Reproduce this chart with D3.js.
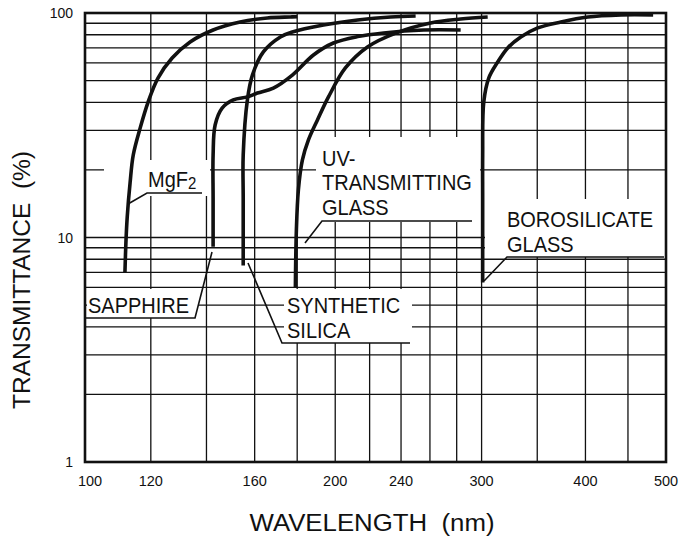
<!DOCTYPE html>
<html>
<head>
<meta charset="utf-8">
<script src="https://cdn.jsdelivr.net/npm/d3@7"></script>
<style>
  html, body { margin: 0; padding: 0; background: #fff; }
  svg { display: block; }
  text { font-family: "Liberation Sans", Arial, Helvetica, sans-serif; fill: #111; }
</style>
</head>
<body>
<svg id="chart" width="683" height="540"></svg>
<script>
// ---------------- data ----------------
const xTicks = [100, 120, 160, 200, 240, 300, 400, 500];
const yTicks = [1, 10, 100];
const xGrid = [120, 140, 160, 180, 200, 220, 240, 260, 280, 300, 350, 400, 450];
const yGrid = [2, 3, 4, 5, 6, 7, 8, 9, 10, 20, 30, 40, 50, 60, 70, 80, 90];

// [wavelength nm, transmittance %]
const mgf2 = [[111.7,7.0],[112.0,9.5],[112.4,12.3],[113.3,17.5],[114.3,23.3],[116.5,30.7],[119.1,40.1],[122.4,51.3],[127.3,63.0],[133.8,74.3],[142.6,84.0],[153.7,91.2],[165.7,95.0],[176.6,96.0],[180.0,96.3]];
const sapphire = [[142.6,9.1],[142.6,15],[142.6,23.3],[143.4,31.7],[146.2,37.7],[150.8,41.0],[156.8,42.3],[161.2,44.0],[168.5,46.3],[177.6,52.9],[188.3,65.0],[199.0,73.5],[212.8,78.5],[228.7,81.5],[255.5,84.0],[283.1,84.0]];
const silica = [[155.0,7.5],[155.0,15],[155.0,23.3],[156.8,41.0],[159.0,52.9],[163.9,67.1],[171.8,78.2],[177.6,82.3],[193.6,88.4],[212.8,93.1],[233.2,96.0],[249.9,96.9]];
const uvGlass = [[179.1,6.0],[179.6,10.8],[180.6,16.3],[182.6,22.1],[185.7,27.2],[190.4,33.4],[196.3,42.3],[205.7,56.9],[218.7,70.6],[236.5,81.4],[260.5,90.3],[283.1,94.0],[305.1,96.0]];
const borosilicate = [[300.9,6.3],[300.9,15],[300.9,23.3],[301.8,40.1],[306.0,51.3],[313.7,60.5],[322.5,69.9],[334.4,78.2],[350.5,85.8],[373.7,91.2],[402.7,96.0],[441.4,98.0],[482.5,98.0]];
const seriesList = [mgf2, sapphire, silica, uvGlass, borosilicate];

// ---------------- layout ----------------
const svg = d3.select("#chart");
const pL = 85, pR = 666, pT = 13, pB = 462;
const x = d3.scaleLog().domain([100, 500]).range([pL, pR]);
const y = d3.scaleLog().domain([1, 100]).range([pB, pT]);

// grid
const grid = svg.append("g").attr("stroke", "#111").attr("stroke-width", 1.3);
grid.selectAll("line.v").data(xGrid).join("line").attr("class", "v")
  .attr("x1", d => x(d)).attr("x2", d => x(d)).attr("y1", pT).attr("y2", pB);
grid.selectAll("line.h").data(yGrid).join("line").attr("class", "h")
  .attr("x1", pL).attr("x2", pR).attr("y1", d => y(d)).attr("y2", d => y(d));

// label backgrounds (white blocks in original drawing)
const masks = [
  [104, 160, 106, 36],   // MgF2
  [316, 137, 164, 85],   // UV glass
  [485, 199, 180, 58],   // borosilicate
  [87, 289, 111, 29],    // sapphire
  [284, 289, 128, 54]    // synthetic silica
];
svg.append("g").selectAll("rect").data(masks).join("rect")
  .attr("x", d => d[0]).attr("y", d => d[1]).attr("width", d => d[2]).attr("height", d => d[3])
  .attr("fill", "#fff");

// frame
svg.append("rect").attr("x", pL).attr("y", pT).attr("width", pR - pL).attr("height", pB - pT)
  .attr("fill", "none").attr("stroke", "#111").attr("stroke-width", 2.6);

// curves
const line = d3.line().x(d => x(d[0])).y(d => y(d[1])).curve(d3.curveCatmullRom.alpha(0.5));
svg.append("g").selectAll("path").data(seriesList).join("path")
  .attr("d", line).attr("fill", "none").attr("stroke", "#111")
  .attr("stroke-width", 3.6).attr("stroke-linecap", "butt").attr("stroke-linejoin", "round");

// leader lines
const leaders = [
  [[202,193],[147,193],[128,204]],
  [[86,318],[195,318],[203,287],[212,252]],
  [[410,343],[282,343],[248,263]],
  [[472,221],[322,221],[305,243]],
  [[664,257],[507,257],[484,281]]
];
svg.append("g").selectAll("path").data(leaders).join("path")
  .attr("d", d => d3.line()(d)).attr("fill", "none").attr("stroke", "#111").attr("stroke-width", 1.6);

// annotation labels
const labels = [
  {t: "UV-", x: 322, y: 166},
  {t: "TRANSMITTING", x: 322, y: 190},
  {t: "GLASS", x: 322, y: 215},
  {t: "BOROSILICATE", x: 507, y: 227},
  {t: "GLASS", x: 507, y: 252},
  {t: "SAPPHIRE", x: 88, y: 313},
  {t: "SYNTHETIC", x: 287, y: 313},
  {t: "SILICA", x: 287, y: 338}
];
svg.append("g").selectAll("text").data(labels).join("text")
  .attr("transform", d => `translate(${d.x},${d.y}) scale(1,1.08)`)
  .attr("font-size", 20).text(d => d.t);
const mg = svg.append("text").attr("transform", "translate(148,187) scale(1,1.08)").attr("font-size", 20);
mg.append("tspan").text("MgF");
mg.append("tspan").attr("font-size", 15).attr("dy", 2).text("2");

// tick labels
svg.append("g").selectAll("text").data(yTicks).join("text")
  .attr("x", 73).attr("y", d => y(d)).attr("dy", "0.36em").attr("text-anchor", "end")
  .attr("font-size", 14).text(d => d);
svg.append("g").selectAll("text").data(xTicks).join("text")
  .attr("x", d => x(d) + (d === 100 ? 5 : 0)).attr("y", 481).attr("dy", "0.36em").attr("text-anchor", "middle")
  .attr("font-size", 14.5).text(d => d);

// axis titles
svg.append("text").attr("transform", "translate(372,531) scale(1,1.1)")
  .attr("text-anchor", "middle").attr("font-size", 22)
  .attr("textLength", 245).attr("lengthAdjust", "spacingAndGlyphs").text("WAVELENGTH\u00a0\u00a0(nm)");
svg.append("text").attr("transform", "translate(30,280) rotate(-90) scale(1,1.1)")
  .attr("text-anchor", "middle").attr("font-size", 22)
  .attr("textLength", 258).attr("lengthAdjust", "spacingAndGlyphs").text("TRANSMITTANCE\u00a0\u00a0(%)");
</script>
</body>
</html>
